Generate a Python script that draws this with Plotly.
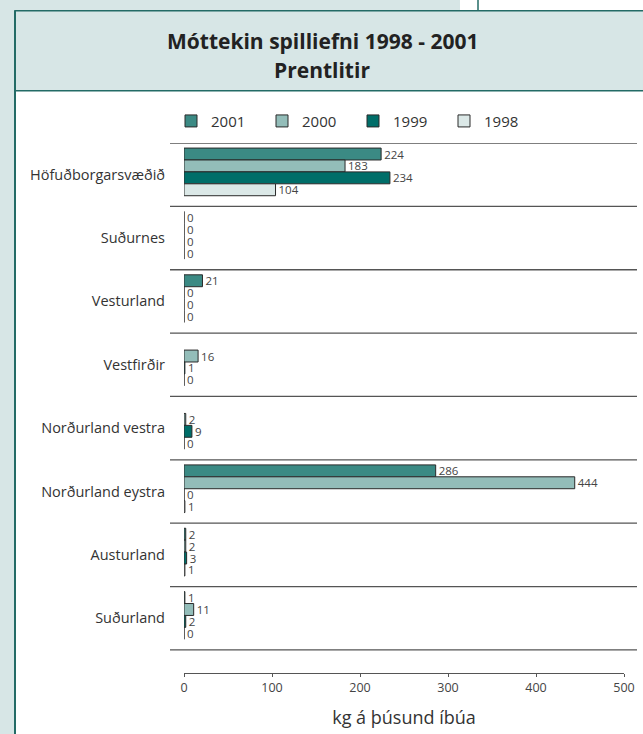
import plotly.graph_objects as go

# ---- data ----
categories = ["Höfuðborgarsvæðið", "Suðurnes", "Vesturland", "Vestfirðir",
              "Norðurland vestra", "Norðurland eystra", "Austurland", "Suðurland"]
years = ["2001", "2000", "1999", "1998"]
v2001 = [224, 0, 21, None, None, 286, 2, 1]
v2000 = [183, 0, 0, 16, 2, 444, 2, 11]
v1999 = [234, 0, 0, 1, 9, 0, 3, 2]
v1998 = [104, 0, 0, 0, 0, 1, 1, 0]
x_ticks = [0, 100, 200, 300, 400, 500]

series = [v2001, v2000, v1999, v1998]
colors = ["#3b8a84", "#93bdb9", "#006e69", "#dbe8e7"]

# ---- layout geometry (pixels) ----
W, H = 643, 734
L, R = 184, 624          # x=0 .. x=500
T, B = 143.3, 673        # top separator .. axis line
n = len(categories)
cat_px = 63.33
ybottom = -0.5 + (B - T) / cat_px

def px_x(p):
    return (p - L) / (R - L)

def px_y(p):
    return 1 - (p - T) / (B - T)

bar_w = 0.188
offsets = [-0.42, -0.232, -0.044, 0.144]

font = "Open Sans"
fig = go.Figure()
for name, vals, col, off in zip(years, series, colors, offsets):
    fig.add_trace(go.Bar(
        y=categories, x=vals, name=name, orientation="h",
        marker=dict(color=col, line=dict(color="#2a2a2a", width=1)),
        width=bar_w, offset=off,
        text=[("" if v is None else str(v)) for v in vals],
        textposition="outside", cliponaxis=False, constraintext="none",
        textfont=dict(family=font, size=11.5, color="#444"),
    ))

shapes = []
light = "#d7e6e6"
teal_line = "#236b66"
# left strip
shapes.append(dict(type="rect", xref="paper", yref="paper", layer="below",
                   x0=px_x(0), x1=px_x(15), y0=px_y(0), y1=px_y(H),
                   fillcolor=light, line=dict(width=0)))
# top strip
shapes.append(dict(type="rect", xref="paper", yref="paper", layer="below",
                   x0=px_x(0), x1=px_x(460), y0=px_y(0), y1=px_y(11),
                   fillcolor=light, line=dict(width=0)))
shapes.append(dict(type="line", xref="paper", yref="paper", layer="below",
                   x0=px_x(478), x1=px_x(478), y0=px_y(0), y1=px_y(11),
                   line=dict(color=teal_line, width=1.5)))
# title box
shapes.append(dict(type="rect", xref="paper", yref="paper", layer="below",
                   x0=px_x(15), x1=px_x(660), y0=px_y(11), y1=px_y(91),
                   fillcolor=light, line=dict(color=teal_line, width=1.5)))
# left panel line
shapes.append(dict(type="line", xref="paper", yref="paper", layer="below",
                   x0=px_x(15), x1=px_x(15), y0=px_y(11), y1=px_y(H + 5),
                   line=dict(color=teal_line, width=2)))
# category separators
for i in range(n + 1):
    shapes.append(dict(type="line", xref="paper", yref="y", layer="below",
                       x0=px_x(170), x1=px_x(637), y0=i - 0.5, y1=i - 0.5,
                       line=dict(color="#555", width=1.3)))

fig.update_layout(
    template="none",
    width=W, height=H,
    margin=dict(l=L, r=W - R, t=T, b=H - B, pad=0, autoexpand=False),
    paper_bgcolor="white", plot_bgcolor="rgba(0,0,0,0)",
    barmode="overlay",
    showlegend=True,
    legend=dict(orientation="h", x=px_x(171), y=px_y(105), xanchor="left", yanchor="top",
                font=dict(family=font, size=15, color="#333"),
                entrywidth=46, entrywidthmode="pixels",
                traceorder="normal", bgcolor="rgba(0,0,0,0)"),
    shapes=shapes,
    annotations=[
        dict(text="<b>Móttekin spilliefni 1998 - 2001</b>", xref="paper", yref="paper",
             x=px_x(322), y=px_y(41), showarrow=False, xanchor="center", yanchor="middle",
             font=dict(family=font, size=21, color="#222")),
        dict(text="<b>Prentlitir</b>", xref="paper", yref="paper",
             x=px_x(322), y=px_y(70), showarrow=False, xanchor="center", yanchor="middle",
             font=dict(family=font, size=21, color="#222")),
    ],
    font=dict(family=font, color="#333"),
)
fig.update_xaxes(range=[0, 500], tickvals=x_ticks, showgrid=False, zeroline=False,
                 showline=True, linecolor="#555", linewidth=1.2,
                 ticks="outside", ticklen=3, tickcolor="#555",
                 tickfont=dict(family=font, size=12.5, color="#444"),
                 title=dict(text="kg á þúsund íbúa", standoff=16,
                            font=dict(family=font, size=18, color="#333")),
                 automargin=False, fixedrange=True)
fig.update_yaxes(categoryorder="array", categoryarray=categories,
                 range=[ybottom, -0.5], showgrid=False, zeroline=False,
                 showline=False, ticks="", ticklabelstandoff=18,
                 tickfont=dict(family=font, size=14.5, color="#333"),
                 automargin=False, fixedrange=True)

fig.write_html("out.html", config={"displayModeBar": False},
               post_script="document.body.style.margin='0px';")
